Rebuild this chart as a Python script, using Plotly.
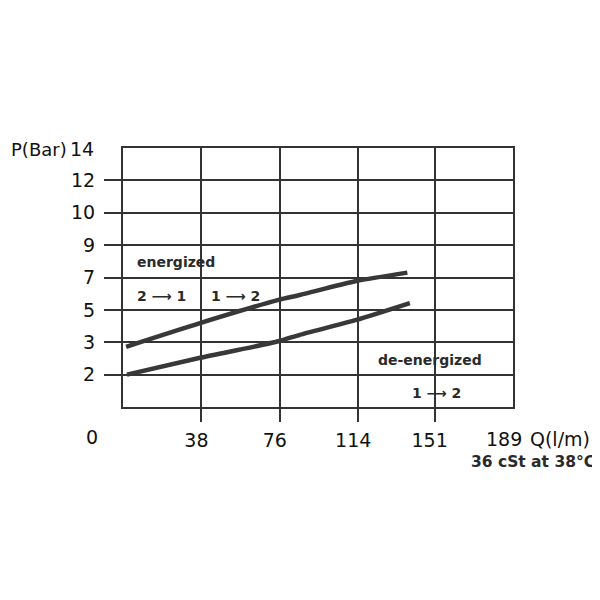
import plotly.graph_objects as go

# Y axis: evenly spaced grid positions with pressure labels (Bar)
y_positions = [1, 2, 3, 4, 5, 6, 7]
y_labels = ["2", "3", "5", "7", "9", "10", "12"]
# X axis: flow Q (l/m)
x_ticks = [38, 76, 114, 151]

# Curves (x in l/m, y in grid positions)
energized_x = [1.5, 37.3, 75.4, 85.7, 113.1, 137.8]
energized_y = [1.86, 2.59, 3.31, 3.46, 3.89, 4.15]
deenergized_x = [1.9, 37.4, 75.4, 85.7, 113.1, 139.0]
deenergized_y = [1.0, 1.52, 2.03, 2.23, 2.69, 3.21]

LINE = "#333333"
TXT = "#111111"
FONT = "DejaVu Sans"

# page body has an 8px margin: size the figure so it fills the 600px window
OFF = 8
W, H = 600 - OFF, 600 - OFF
L, T, R, B = 123 - OFF, 147.5 - OFF, 86.5, 192.5
PW, PH = W - L - R, H - T - B

fig = go.Figure()
for xs, ys in [(energized_x, energized_y), (deenergized_x, deenergized_y)]:
    fig.add_trace(go.Scatter(x=xs, y=ys, mode="lines",
                             line=dict(color="#383838", width=4.5, shape="spline", smoothing=0.6),
                             showlegend=False, hoverinfo="skip"))

fig.update_layout(
    width=W, height=H,
    margin=dict(l=L, r=R, t=T, b=B, autoexpand=False),
    paper_bgcolor="white", plot_bgcolor="white",
    font=dict(family=FONT, color=TXT, size=19),
    showlegend=False,
)
fig.update_xaxes(range=[0, 189], tickvals=x_ticks, ticktext=[str(v) for v in x_ticks],
                 showgrid=True, gridcolor=LINE, gridwidth=2,
                 showline=True, linecolor=LINE, linewidth=2, mirror=True,
                 ticks="outside", ticklen=13, tickwidth=2, tickcolor=LINE,
                 ticklabelshift=-5, ticklabelstandoff=2,
                 zeroline=False, fixedrange=True)
fig.update_yaxes(range=[0, 8], tickvals=y_positions, ticktext=y_labels,
                 showgrid=True, gridcolor=LINE, gridwidth=2,
                 showline=True, linecolor=LINE, linewidth=2, mirror=True,
                 ticks="outside", ticklen=17, tickwidth=2, tickcolor=LINE,
                 ticklabelstandoff=5,
                 zeroline=False, fixedrange=True)

def ann(text, x, y, xanchor="left", size=14, bold=True, ref="data"):
    if ref == "px":
        # x, y given as pixel positions in the 600x600 window
        px, py = x - OFF, y - OFF
        x = (px - L) / PW
        y = 1 - (py - T) / PH
        xref, yref = "paper", "paper"
    else:
        xref, yref = "x", "y"
    fig.add_annotation(text=f"<b>{text}</b>" if bold else text, x=x, y=y, xref=xref, yref=yref,
                       xanchor=xanchor, yanchor="middle", showarrow=False,
                       font=dict(family=FONT, size=size, color="#2a2a2a" if bold else TXT))

ann("energized", 5.8, 4.48)
ann("2 ⟶ 1", 5.8, 3.43)
ann("1 ⟶ 2", 41.6, 3.43)
ann("de-energized", 122.5, 1.46)
ann("1 ⟶ 2", 139.0, 0.42)
ann("CP502-3", 189.6, 8.29, xanchor="right", size=15)
ann("P(Bar)", 9, 149, xanchor="left", size=18, bold=False, ref="px")
ann("14", 96, 149, xanchor="right", size=19, bold=False, ref="px")
ann("0", 92, 438, xanchor="center", size=19, bold=False, ref="px")
ann("189", 484, 440, size=19, bold=False, ref="px")
ann("Q(l/m)", 529, 440, size=19, bold=False, ref="px")
ann("36 cSt at 38°C", 598, 463, xanchor="right", size=15.5, ref="px")

fig.write_html("out.html")
